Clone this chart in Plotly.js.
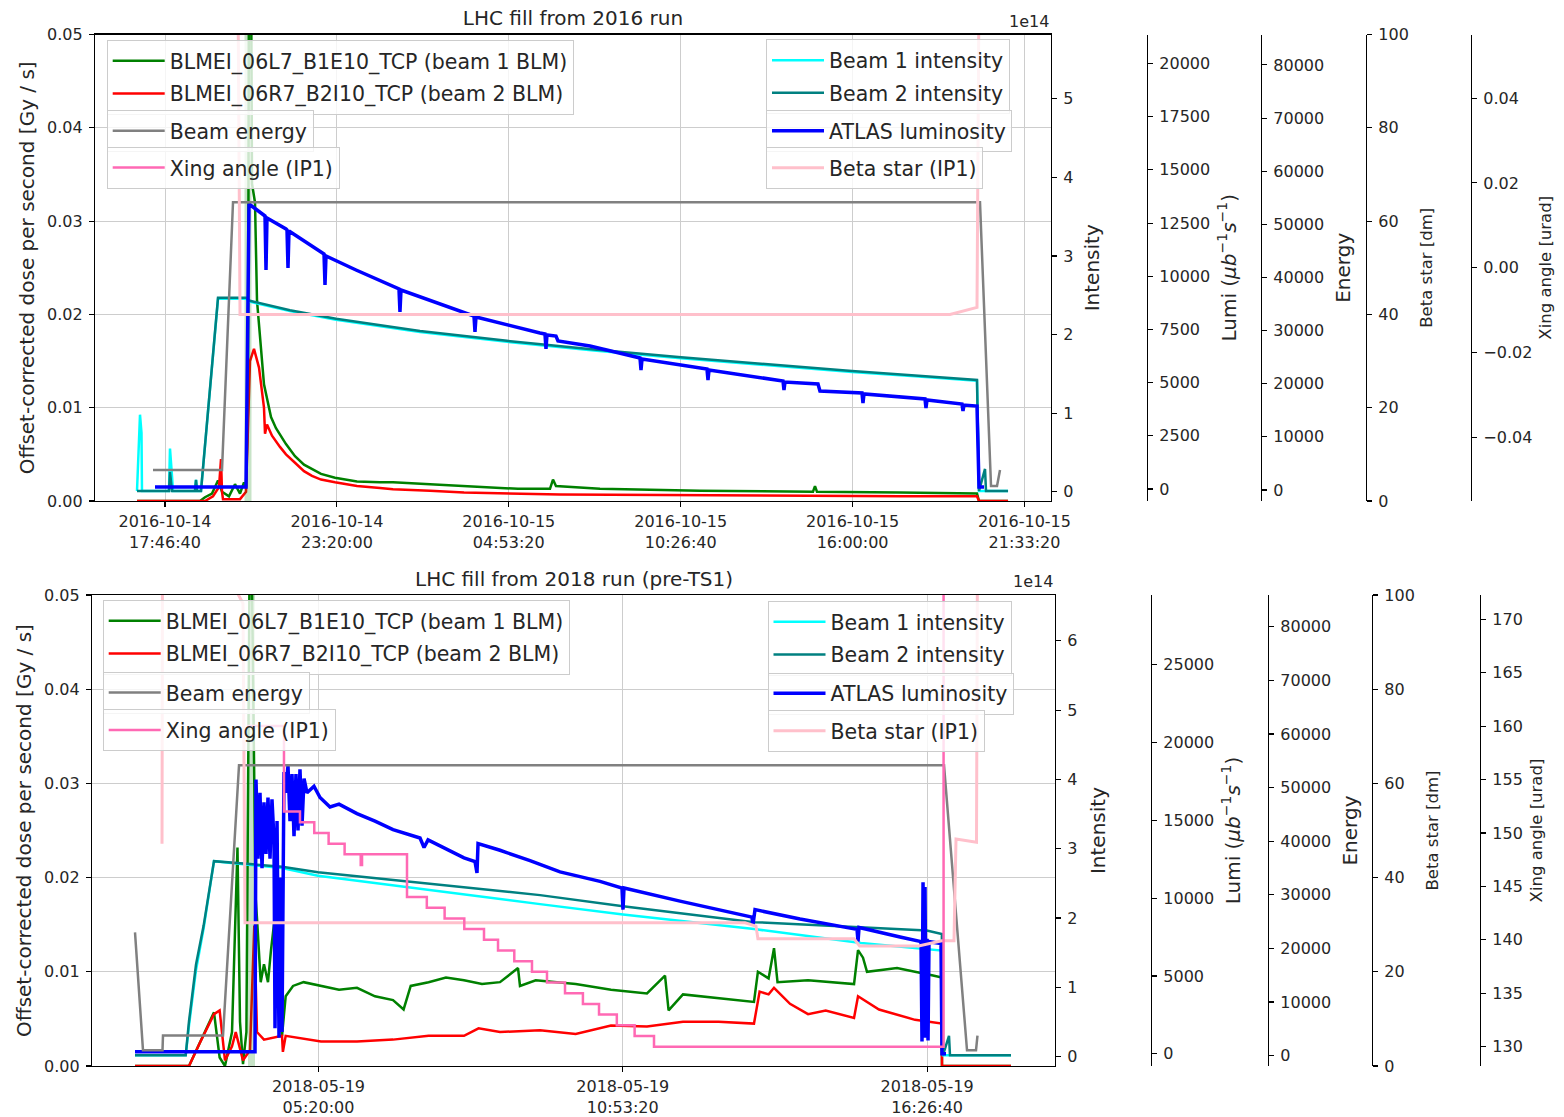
<!DOCTYPE html>
<html><head><meta charset="utf-8">
<script src="https://cdn.plot.ly/plotly-3.0.1.min.js"></script>
<style>body{margin:0;background:#fff}</style>
</head><body><div id="chart" style="width:1564px;height:1117px"></div>
<script>
// ===== LHC fill 2016 (times: hours since 2016-10-14 00:00) =====
const t16_green = [16.873,18.909,19.071,19.297,19.491,19.620,19.846,20.040,20.202,20.331,20.396,20.460,20.493,20.557,20.590,20.687,20.751,20.977,21.204,21.365,21.688,21.979,22.270,22.528,22.820,23.272,23.983,24.726,25.146,26.342,27.441,29.186,30.220,30.317,30.414,31.836,35.068,38.720,38.785,38.849,41.532,44.021,44.086,45.024];
const blm1_16 = [0,0,0.0004,0.0008,0.0022,0.001,0.0005,0.0018,0.0008,0.002,0.0015,0.01,0.06,0.06,0.034,0.032,0.0215,0.0125,0.009,0.0078,0.0061,0.0048,0.0039,0.0034,0.0029,0.0025,0.0021,0.0020,0.0020,0.0018,0.0016,0.0013,0.0013,0.0023,0.0016,0.0013,0.0011,0.0010,0.0016,0.0010,0.0009,0.0008,0,0];
const t16_red = [16.873,19.071,19.329,19.523,19.588,19.620,19.652,20.202,20.396,20.460,20.525,20.654,20.816,20.977,21.010,21.074,21.236,21.494,21.688,21.979,22.270,22.528,22.820,23.272,23.983,24.726,25.146,26.342,27.441,30.544,35.068,41.532,44.021,44.086,45.024];
const blm2_16 = [0,0,0.0005,0.0015,0.0045,0.001,0.0002,0.0002,0.001,0.008,0.0150,0.0163,0.0143,0.0100,0.0072,0.0082,0.0070,0.0058,0.0050,0.0041,0.0032,0.0027,0.0023,0.0020,0.0016,0.0014,0.00125,0.0011,0.0009,0.0007,0.0006,0.0005,0.0005,0,0];
const t16_band = [20.46,20.46];
const band_16 = [0,0.05];
const t16_b1 = [16.873,16.937,16.970,17.018,17.034,17.907,17.939,18.004,18.036,18.747,18.780,18.812,18.941,19.491,20.396,20.525,21.818,23.304,24.726,26.019,28.830,31.642,34.454,37.200,39.980,42.017,44.021,44.086,45.024];
const b1_16 = [0.01,0.85,0.98,0.75,0.01,0.01,0.55,0.20,0.01,0.01,0.15,0.01,0.01,2.455,2.455,2.418,2.298,2.188,2.103,2.033,1.908,1.798,1.698,1.608,1.523,1.468,1.411,0.01,0.01]; // units of 1e14 protons
const t16_b2 = [16.873,17.907,17.939,18.004,18.747,18.780,18.812,18.941,19.491,20.396,20.525,21.818,23.304,24.726,26.019,28.830,31.642,34.454,37.200,39.980,42.017,44.021,44.086,44.280,44.312,45.024];
const b2_16 = [0.01,0.01,0.25,0.01,0.01,0.15,0.01,0.01,2.467,2.467,2.430,2.310,2.200,2.115,2.045,1.920,1.810,1.710,1.620,1.535,1.480,1.423,0.01,0.29,0.01,0.01]; // units of 1e14 protons
const t16_lumi = [17.455,20.396,20.493,20.913,21.010,21.042,21.074,21.688,21.721,21.753,21.785,22.917,22.949,22.981,23.951,25.340,25.372,25.405,26.569,27.764,27.796,27.829,29.897,30.058,30.091,30.123,30.414,30.479,31.514,33.129,33.162,33.194,35.294,35.327,35.359,37.751,37.783,37.815,38.882,38.946,40.304,40.336,40.368,42.340,42.372,42.405,43.536,43.568,43.601,44.021,44.086,44.247];
const lumi_16 = [90,90,13395,12925,12831,10293,12737,12220,12173,10387,12126,11045,9588,10951,10293,9400,8319,9353,8742,8131,7379,8084,7332,7285,6580,7238,7191,6956,6721,6157,5593,6110,5640,5123,5593,5076,4653,5029,4935,4606,4512,4042,4465,4230,3807,4183,3995,3666,3948,3901,90,90];
const t16_energy = [17.390,19.620,19.976,44.118,44.474,44.668,44.765];
const energy_16 = [3750,3750,54167,54167,750,750,3750];
const t16_beta = [16.873,20.137,20.202,43.148,44.021,44.086,45.024];
const beta_16 = [110,110,40,40,41.5,110,110];
const t16_xing = [null];   // no crossing-angle data logged for this fill
const xing_16 = [null];

// ===== LHC fill 2018 (times: hours since 2018-05-19 00:00) =====
const t18_green = [1.983,2.969,3.425,3.528,3.626,3.754,3.854,3.900,3.955,4.017,4.083,4.101,4.161,4.181,4.210,4.278,4.338,4.411,4.466,4.539,4.572,4.667,4.734,4.868,5.061,5.379,5.708,6.036,6.365,6.694,6.887,7.017,7.343,7.661,7.990,8.318,8.647,8.976,9.012,9.299,9.743,10.029,10.674,11.331,11.660,11.725,11.988,12.638,13.284,13.356,13.551,13.650,13.714,14.271,15.111,15.184,15.275,15.348,15.896,16.553,16.714,16.717,17.977];
const blm1_18 = [0,0,0.0057,0.0009,0,0.0036,0.0232,0.0047,0.0002,0.0036,0.06,0.06,0.03,0.0183,0.0157,0.0089,0.0108,0.0089,0.0123,0.016,0.0093,0.0032,0.0074,0.0085,0.0089,0.0085,0.0081,0.0083,0.0074,0.0070,0.0060,0.0085,0.0089,0.0094,0.0091,0.0087,0.0089,0.0104,0.0085,0.0091,0.0089,0.0087,0.0081,0.0077,0.0096,0.0059,0.0076,0.0072,0.0068,0.0100,0.0093,0.0125,0.0089,0.0091,0.0087,0.0123,0.0115,0.0100,0.0104,0.0096,0.0094,0,0];
const t18_red = [1.983,2.969,3.170,3.425,3.528,3.626,3.754,3.822,3.955,4.083,4.161,4.210,4.338,4.667,4.683,4.734,5.379,6.036,6.694,7.343,7.990,8.256,8.647,9.378,10.029,10.674,11.331,11.988,12.638,13.284,13.387,13.551,13.650,13.942,14.271,14.594,15.111,15.184,15.567,16.225,16.714,16.717,17.977];
const blm2_18 = [0,0,0.0025,0.0055,0.0059,0.0006,0.0021,0.0036,0.0006,0.0017,0.0149,0.0036,0.0028,0.0032,0.0015,0.0032,0.0026,0.0026,0.0028,0.0032,0.0032,0.0040,0.0036,0.0038,0.0034,0.0043,0.0042,0.0047,0.0047,0.0045,0.0079,0.0076,0.0083,0.0066,0.0055,0.0059,0.0051,0.0074,0.0060,0.0049,0.0045,0,0];
const t18_band = [4.11,4.11];
const band_18 = [0,0.05];
const t18_b1 = [1.983,2.909,2.969,3.097,3.236,3.425,4.667,5.324,9.378,10.893,13.284,15.239,16.714,16.735,17.977];
const b1_18 = [0.02,0.02,0.45,1.25,1.85,2.82,2.72,2.61,2.20,2.05,1.84,1.64,1.53,0.02,0.02];
const t18_b2 = [1.983,2.909,2.969,3.097,3.236,3.425,4.667,5.324,9.378,10.893,13.284,16.439,16.714,16.735,16.845,16.863,17.977];
const b2_18 = [0.02,0.02,0.51,1.33,1.89,2.82,2.74,2.66,2.33,2.17,1.94,1.82,1.77,0.02,0.30,0.02,0.02];
const t18_lumi = [1.983,4.174,4.192,4.229,4.265,4.302,4.338,4.375,4.411,4.448,4.484,4.521,4.539,4.576,4.612,4.649,4.667,4.703,4.740,4.776,4.813,4.849,4.886,4.922,4.959,4.995,5.032,5.069,5.123,5.251,5.361,5.543,5.708,6.036,6.365,6.694,7.187,7.260,7.333,7.990,8.191,8.227,8.246,8.647,9.195,9.743,10.473,10.874,10.893,10.911,11.933,13.248,13.266,13.303,14.125,15.166,15.184,15.202,15.951,16.334,16.352,16.371,16.389,16.407,16.425,16.444,16.462,16.480,16.699,16.717,16.790];
const lumi_18 = [124,124,17621,12535,16773,11930,16168,12838,16471,12535,16349,13746,1638,14957,1032,11324,1396,18105,16773,18529,14957,17984,13988,17984,14352,18287,14654,17681,16773,17197,16471,15865,16047,15441,14957,14412,13867,13262,13746,12596,12354,11627,13504,13080,12414,11688,11082,10659,9266,10659,9811,8782,8297,9266,8661,7995,7207,8116,7510,7207,790,11022,1032,10719,1032,7389,851,7207,7086,0,0];
const t18_energy = [1.983,2.129,2.485,2.494,3.590,3.882,16.754,17.174,17.338,17.365];
const energy_18 = [23000,1000,1000,3750,3750,54167,54167,1000,1000,3750];
const t18_beta = [2.476,2.485,3.827,3.955,3.991,13.120,13.321,13.356,15.111,15.213,16.290,16.714,16.936,16.973,17.347,17.365,17.977];
const beta_18 = [47.2,110,101,98.2,30.4,30.4,29.7,27.0,27.0,25.5,25.5,26.6,26.6,48.2,47.5,110,110];
const t18_xing = [4.028,4.703,4.995,5.256,5.518,5.810,6.104,6.128,6.949,7.311,7.636,7.995,8.355,8.611,8.908,9.231,9.505,9.834,10.161,10.455,10.780,11.105,11.459,16.746,17.977];
const xing_18 = [160,152,151,150,149,148,147,148,144,143,142,141,140,139,138,137,136,135,134,133,132,131,130,175,175];

// ===== labels =====
const titles = ['LHC fill from 2016 run', 'LHC fill from 2018 run (pre-TS1)'];
const names = {
  b1blm: 'BLMEI_06L7_B1E10_TCP (beam 1 BLM)', b2blm: 'BLMEI_06R7_B2I10_TCP (beam 2 BLM)',
  energy: 'Beam energy', xing: 'Xing angle (IP1)', b1: 'Beam 1 intensity', b2: 'Beam 2 intensity',
  lumi: 'ATLAS luminosity', beta: 'Beta star (IP1)'
};

// ===== helpers =====
const W = 1564, H = 1117;
const FONT = 'DejaVu Sans, sans-serif';
const TXT = '#262626';
function toDates(baseMs, hrs){ return hrs.map(h => h === null ? null : new Date(baseMs + h*3600000).toISOString().replace('T',' ').replace('Z','')); }
const B16 = Date.UTC(2016,9,14), B18 = Date.UTC(2018,4,19);

let gid = 0;
function tr(x, y, name, color, width, xa, ya, legend, extra){
  gid++;
  return Object.assign({type:'scatter', mode:'lines', x:x, y:y, name:name, xaxis:xa, yaxis:ya, legend:legend,
    legendgroup:'g'+gid, line:{color:color, width:width}, hoverinfo:'skip'}, extra||{});
}

const data = [];
function addFill(base, T, xa, ys, legs){
  const [yD, yI, yL, yE, yB, yX] = ys;
  const [lg1, lg2, lg3, lg4, lg5, lg6] = legs;
  data.push(tr(toDates(base,T.tg), T.g, names.b1blm, '#008000', 2.5, xa, yD, lg1));
  data.push(tr(toDates(base,T.tr), T.r, names.b2blm, '#ff0000', 2.5, xa, yD, lg1));
  data.push(tr(toDates(base,T.tband), T.band, 'band', 'rgba(0,128,0,0.22)', 7, xa, yD, lg1, {showlegend:false}));
  data.push(tr(toDates(base,T.tb1), T.b1, names.b1, '#00ffff', 2.5, xa, yI, lg4));
  data.push(tr(toDates(base,T.tb2), T.b2, names.b2, '#008080', 2.5, xa, yI, lg4));
  data.push(tr(toDates(base,T.tl), T.l, names.lumi, '#0000ff', 3.5, xa, yL, lg5));
  data.push(tr(toDates(base,T.te), T.e, names.energy, '#808080', 2.5, xa, yE, lg2));
  data.push(tr(toDates(base,T.tbeta), T.beta, names.beta, '#ffc0cb', 3, xa, yB, lg6));
  data.push(tr(toDates(base,T.tx), T.xg, names.xing, '#ff69b4', 2.5, xa, yX, lg3, T.xshape ? {line:{color:'#ff69b4', width:2.5, shape:'hv'}} : {}));
}
addFill(B16, {tg:t16_green,g:blm1_16,tr:t16_red,r:blm2_16,tband:t16_band,band:band_16,tb1:t16_b1,b1:b1_16,tb2:t16_b2,b2:b2_16,tl:t16_lumi,l:lumi_16,te:t16_energy,e:energy_16,tbeta:t16_beta,beta:beta_16,tx:t16_xing,xg:xing_16},
  'x', ['y','y2','y3','y4','y5','y6'], ['legend','legend2','legend3','legend4','legend5','legend6']);
addFill(B18, {tg:t18_green,g:blm1_18,tr:t18_red,r:blm2_18,tband:t18_band,band:band_18,tb1:t18_b1,b1:b1_18,tb2:t18_b2,b2:b2_18,tl:t18_lumi,l:lumi_18,te:t18_energy,e:energy_18,tbeta:t18_beta,beta:beta_18,tx:t18_xing,xg:xing_18,xshape:true},
  'x2', ['y7','y8','y9','y10','y11','y12'], ['legend7','legend8','legend9','legend10','legend11','legend12']);

// ===== axes =====
const baseAx = {zeroline:false, showline:true, linecolor:'#000', linewidth:1.1, ticks:'outside', ticklen:5, tickwidth:1.1,
  tickcolor:'#000', tickfont:{size:16, color:TXT}, ticklabelstandoff:3, showgrid:false};
function ax(o){ return Object.assign({}, baseAx, o); }
const GRID = '#cdcdcd';
const topDom = [1-501/H, 1-34.5/H], botDom = [1-1066/H, 1-595/H];
function tt(text, size, standoff){ return {text:text, font:{size:size, color:TXT}, standoff:standoff}; }
const lumiTitle = 'Lumi (<i>μb</i><sup>−1</sup><i>s</i><sup>−1</sup>)';
const xfmt = '%Y-%m-%d<br>%H:%M:%S';

const layout = {
  width:W, height:H, margin:{l:0,r:0,t:0,b:0}, paper_bgcolor:'#fff', plot_bgcolor:'#fff',
  font:{family:FONT, size:16, color:TXT}, showlegend:true,
  title:{text:titles[0], x:573/W, xanchor:'center', y:1-18/H, yanchor:'middle', font:{size:20, color:TXT}},
  xaxis: ax({domain:[95/W,1051/W], anchor:'y', type:'date', range:['2016-10-14 15:30:56','2016-10-15 22:24:45'],
    tick0:'2016-10-14 17:46:40', dtick:20000000, tickformat:xfmt, showgrid:true, gridcolor:GRID, mirror:true, ticklabelstandoff:1}),
  yaxis: ax({domain:topDom, anchor:'x', range:[0,0.05], dtick:0.01, tickformat:'.2f', showgrid:true, gridcolor:GRID, mirror:true,
    title:tt('Offset-corrected dose per second [Gy / s]', 20, 7)}),
  yaxis2: ax({overlaying:'y', anchor:'x', side:'right', range:[-0.118,5.818], dtick:1, title:tt('Intensity',20,12)}),
  yaxis3: ax({overlaying:'y', anchor:'free', position:1147/W, side:'right', range:[-564,21362], dtick:2500, tickformat:'d', title:tt(lumiTitle,20,12)}),
  yaxis4: ax({overlaying:'y', anchor:'free', position:1261/W, side:'right', range:[-2070,85725], dtick:10000, tickformat:'d', title:tt('Energy',20,12)}),
  yaxis5: ax({overlaying:'y', anchor:'free', position:1366/W, side:'right', range:[0,100], dtick:20, title:tt('Beta star [dm]',16.5,12)}),
  yaxis6: ax({overlaying:'y', anchor:'free', position:1471/W, side:'right', range:[-0.055,0.055], tick0:0, dtick:0.02, tickformat:'.2f', title:tt('Xing angle [urad]',16.5,8)}),

  xaxis2: ax({domain:[92/W,1055/W], anchor:'y7', type:'date', range:['2018-05-19 01:11:52','2018-05-19 18:46:49'],
    tick0:'2018-05-19 05:20:00', dtick:20000000, tickformat:xfmt, showgrid:true, gridcolor:GRID, mirror:true, ticklabelstandoff:1}),
  yaxis7: ax({domain:botDom, anchor:'x2', range:[0,0.05], dtick:0.01, tickformat:'.2f', showgrid:true, gridcolor:GRID, mirror:true,
    title:tt('Offset-corrected dose per second [Gy / s]', 20, 7)}),
  yaxis8: ax({overlaying:'y7', anchor:'x2', side:'right', range:[-0.136,6.661], dtick:1, title:tt('Intensity',20,14)}),
  yaxis9: ax({overlaying:'y7', anchor:'free', position:1151/W, side:'right', range:[-784,29487], dtick:5000, tickformat:'d', title:tt(lumiTitle,20,12)}),
  yaxis10: ax({overlaying:'y7', anchor:'free', position:1268/W, side:'right', range:[-1940,85945], dtick:10000, tickformat:'d', title:tt('Energy',20,12)}),
  yaxis11: ax({overlaying:'y7', anchor:'free', position:1372/W, side:'right', range:[0,100], dtick:20, title:tt('Beta star [dm]',16.5,12)}),
  yaxis12: ax({overlaying:'y7', anchor:'free', position:1480/W, side:'right', range:[128.19,172.27], dtick:5, tick0:130, title:tt('Xing angle [urad]',16.5,8)}),

  annotations:[
    {xref:'paper', yref:'paper', x:573.5/W, y:1-579/H, xanchor:'center', yanchor:'middle', showarrow:false, text:titles[1], font:{size:20, color:TXT}},
    {xref:'paper', yref:'paper', x:1051/W, y:1-33/H, xanchor:'right', yanchor:'bottom', showarrow:false, text:'1e14', font:{size:16, color:TXT}},
    {xref:'paper', yref:'paper', x:1055/W, y:1-593/H, xanchor:'right', yanchor:'bottom', showarrow:false, text:'1e14', font:{size:16, color:TXT}}
  ]
};
function leg(xp, yp){ return {x:xp/W, y:1-yp/H, xanchor:'left', yanchor:'top', bgcolor:'rgba(255,255,255,0.8)', bordercolor:'#cccccc',
  borderwidth:1, font:{size:20.5, color:TXT, family:FONT}, itemwidth:52, tracegroupgap:3, traceorder:'grouped'}; }
const legPos = [[106.7,40],[106.7,110],[106.7,146.7],[766,39.3],[766,110],[766,147],
                [102.7,600],[102.7,671.7],[102.7,709.3],[767.5,601],[767.5,672.5],[767.5,710]];
legPos.forEach((p,i) => { layout[i===0 ? 'legend' : 'legend'+(i+1)] = leg(p[0], p[1]); });

Plotly.newPlot('chart', data, layout, {staticPlot:true, displayModeBar:false});
</script>
</body></html>
